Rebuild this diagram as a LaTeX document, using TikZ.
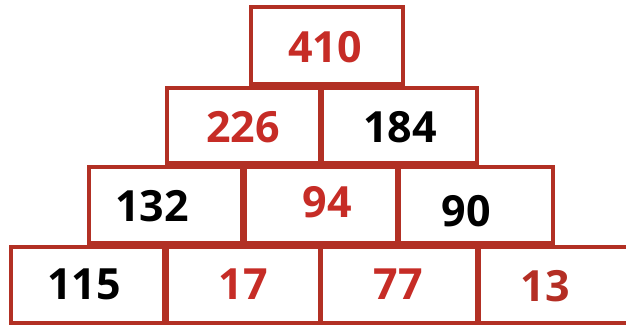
\documentclass[tikz,border=0pt]{standalone}
\usepackage{fontspec}
\setmainfont{Open Sans}
\definecolor{edge}{RGB}{178,48,36}
\definecolor{redtxt}{RGB}{198,44,38}
\definecolor{darkred}{RGB}{180,46,36}
\begin{document}
\begin{tikzpicture}[x=1pt,y=-1pt,
  box/.style={draw=edge,line width=3.2pt,rectangle,inner sep=0pt},
  num/.style={font=\fontsize{43}{43}\selectfont\bfseries,inner sep=0pt,anchor=center},
  rednum/.style={num,text=redtxt},
  blacknum/.style={num,text=black}]
\useasboundingbox (0,0) rectangle (626,324);
% boxes: (left,top) -- (right,bottom)
\newcommand{\pbox}[5]{\node[box,minimum width={#4-#2},minimum height={#5-#3}] (#1) at ({(#2+#4)/2},{(#3+#5)/2}) {};}
\pbox{b410}{251}{7}{403}{84}
\pbox{b226}{167}{88}{320}{163}
\pbox{b184}{322}{88}{477}{163}
\pbox{b132}{89}{167}{242}{243}
\pbox{b94}{245}{167}{397}{243}
\pbox{b90}{399}{167}{553}{243}
\pbox{b115}{11}{247}{164}{323}
\pbox{b17}{167}{247}{320}{323}
\pbox{b77}{321}{247}{477}{323}
\pbox{b13}{479}{247}{632}{323}
% labels
\node[rednum] (t410) at (325,47) {410};
\node[rednum] (t226) at (243,127) {226};
\node[blacknum] (t184) at (400,127) {184};
\node[blacknum] (t132) at (152,206) {132};
\node[rednum] (t94) at (327,202) {94};
\node[blacknum] (t90) at (466,211) {90};
\node[blacknum] (t115) at (84,284) {115};
\node[rednum] (t17) at (243,284) {17};
\node[rednum] (t77) at (398,284) {77};
\node[num,text=darkred] (t13) at (545,286) {13};
\end{tikzpicture}
\end{document}
